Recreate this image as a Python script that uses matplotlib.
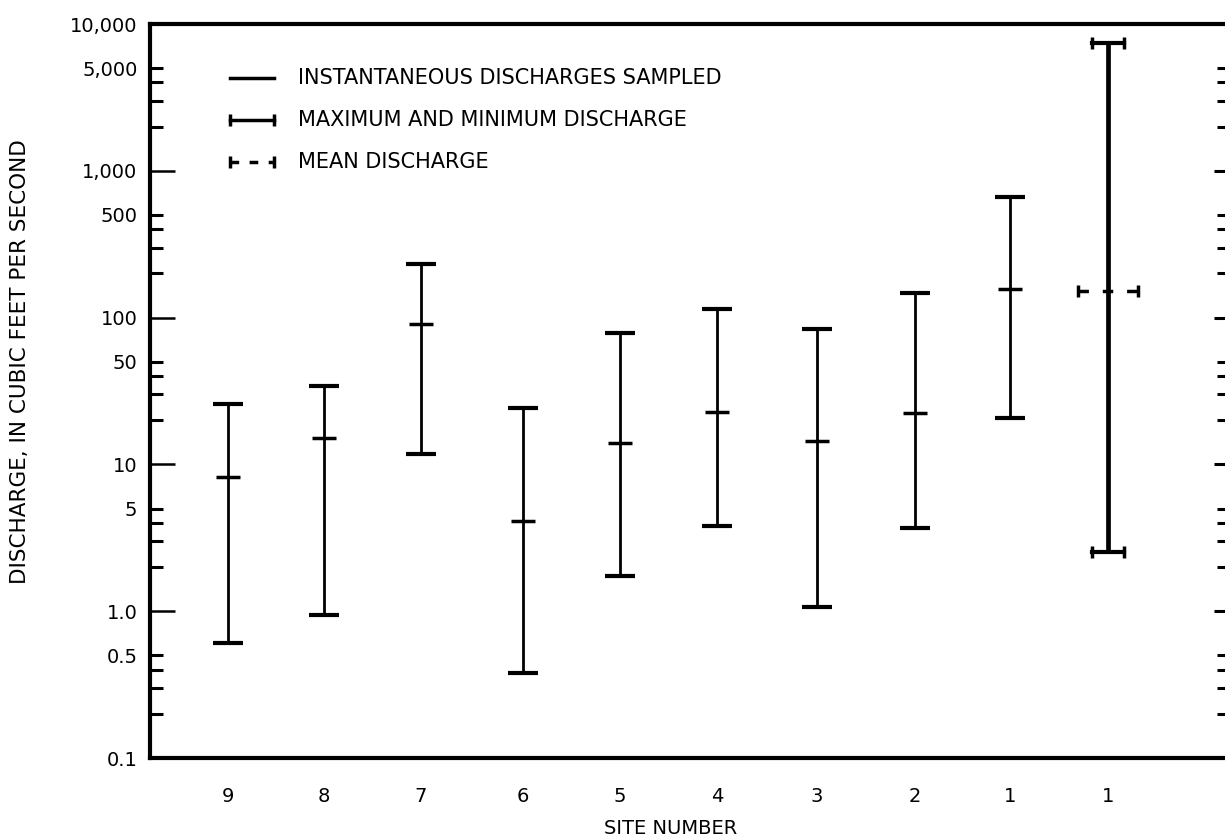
import matplotlib.pyplot as plt

# site labels along the x axis (downstream order as printed)
sites = ['9', '8', '7', '6', '5', '4', '3', '2', '1', '1']
site_pos = [0.78, 1.74, 2.71, 3.73, 4.70, 5.67, 6.67, 7.65, 8.60, 9.58]

# sampled discharges, cubic feet per second (sites 9 ... 1)
q_min = [0.605, 0.94, 11.8, 0.38, 1.75, 3.8, 1.06, 3.66, 20.7]
q_inst = [8.2, 15.1, 90, 4.1, 14.0, 22.9, 14.5, 22.3, 156]
q_max = [25.6, 34, 232, 24.2, 78, 114, 84, 146, 660]

# period of record at site 1
rec_min = 2.55
rec_mean = 151
rec_max = 7400

y_major = [0.1, 1, 10, 100, 1000, 10000]
y_major_labels = ['0.1', '1.0', '10', '100', '1,000', '10,000']
y_minor = [m * d for d in [0.1, 1, 10, 100, 1000] for m in [2, 3, 4, 5]]
y_five_labels = {0.5: '0.5', 5: '5', 50: '50', 500: '500', 5000: '5,000'}

legend_labels = ['INSTANTANEOUS DISCHARGES SAMPLED',
                 'MAXIMUM AND MINIMUM DISCHARGE',
                 'MEAN DISCHARGE']

plt.rcParams['font.family'] = ['DejaVu Sans']

fig = plt.figure(figsize=(12.25, 8.39), dpi=100)
ax = fig.add_axes([150 / 1225, 81 / 839, 1075 / 1225, 734 / 839])

ax.set_yscale('log')
ax.set_ylim(0.1, 10000)
ax.set_xlim(0, 10.75)

# ranges for sites 9..1
cap = 0.15
mid = 0.12
for x, lo, q, hi in zip(site_pos[:-1], q_min, q_inst, q_max):
    ax.vlines(x, lo, hi, color='black', lw=2.0)
    ax.hlines([lo, hi], x - cap, x + cap, color='black', lw=3)
    ax.hlines(q, x - mid, x + mid, color='black', lw=2.5)

# period of record, site 1
xr = site_pos[-1]
ax.vlines(xr, rec_min, rec_max, color='black', lw=3.4)
for v in [rec_min, rec_max]:
    ax.plot([xr - 0.16, xr + 0.16], [v, v], color='black', lw=3,
            marker='|', markersize=8, markeredgewidth=2.5)
ax.plot([xr - 0.30, xr + 0.30], [rec_mean, rec_mean], color='black', lw=2.5,
        linestyle=(0, (3, 4)))
ax.plot([xr - 0.30, xr + 0.30], [rec_mean, rec_mean], color='black', lw=0,
        marker='|', markersize=8, markeredgewidth=2.5)

# legend drawn by hand
rows = [0.926, 0.869, 0.812]
x0, x1 = 0.0744, 0.1153
tr = ax.transAxes
ax.plot([x0, x1], [rows[0]] * 2, color='black', lw=2.5, transform=tr)
ax.plot([x0, x1], [rows[1]] * 2, color='black', lw=2.5, transform=tr,
        marker='|', markersize=8, markeredgewidth=2.5)
ax.plot([x0, x1], [rows[2]] * 2, color='black', lw=2.5, transform=tr,
        linestyle=(0, (2.5, 3)))
ax.plot([x0, x1], [rows[2]] * 2, color='black', lw=0, transform=tr,
        marker='|', markersize=8, markeredgewidth=2.5)
for r, lab in zip(rows, legend_labels):
    ax.text(0.1377, r, lab, transform=tr, fontsize=15, va='center', ha='left')

# y ticks on left
ax.set_yticks(y_major)
ax.set_yticklabels(y_major_labels)
ax.set_yticks(y_minor, minor=True)
ax.set_yticklabels([y_five_labels.get(v, '') for v in y_minor], minor=True)
ax.tick_params(axis='y', which='major', direction='in', length=18, width=1.8,
               labelsize=14, pad=9)
ax.tick_params(axis='y', which='minor', direction='in', length=9, width=2.2,
               labelsize=14, pad=9)

# x ticks
ax.set_xticks(site_pos)
ax.set_xticklabels(sites)
ax.tick_params(axis='x', length=0, labelsize=14, pad=21)

# right side ticks
ax2 = ax.twinx()
ax2.set_yscale('log')
ax2.set_ylim(ax.get_ylim())
ax2.set_yticks(y_major[1:-1])
ax2.set_yticks(y_minor, minor=True)
ax2.tick_params(axis='y', which='major', direction='in', length=8, width=2.2,
                labelright=False)
ax2.tick_params(axis='y', which='minor', direction='in', length=6, width=2.2,
                labelright=False)
for sp in ax2.spines.values():
    sp.set_visible(False)

for side in ['left', 'top', 'bottom']:
    ax.spines[side].set_linewidth(3)
ax.spines['right'].set_visible(False)

fig.text(671 / 1225, 1 / 839, 'SITE NUMBER', fontsize=14, ha='center', va='bottom')
fig.text(20 / 1225, (839 - 362) / 839, 'DISCHARGE, IN CUBIC FEET PER SECOND',
         fontsize=15.5, rotation=90, ha='center', va='center')

fig.savefig('out.png', dpi=100)
